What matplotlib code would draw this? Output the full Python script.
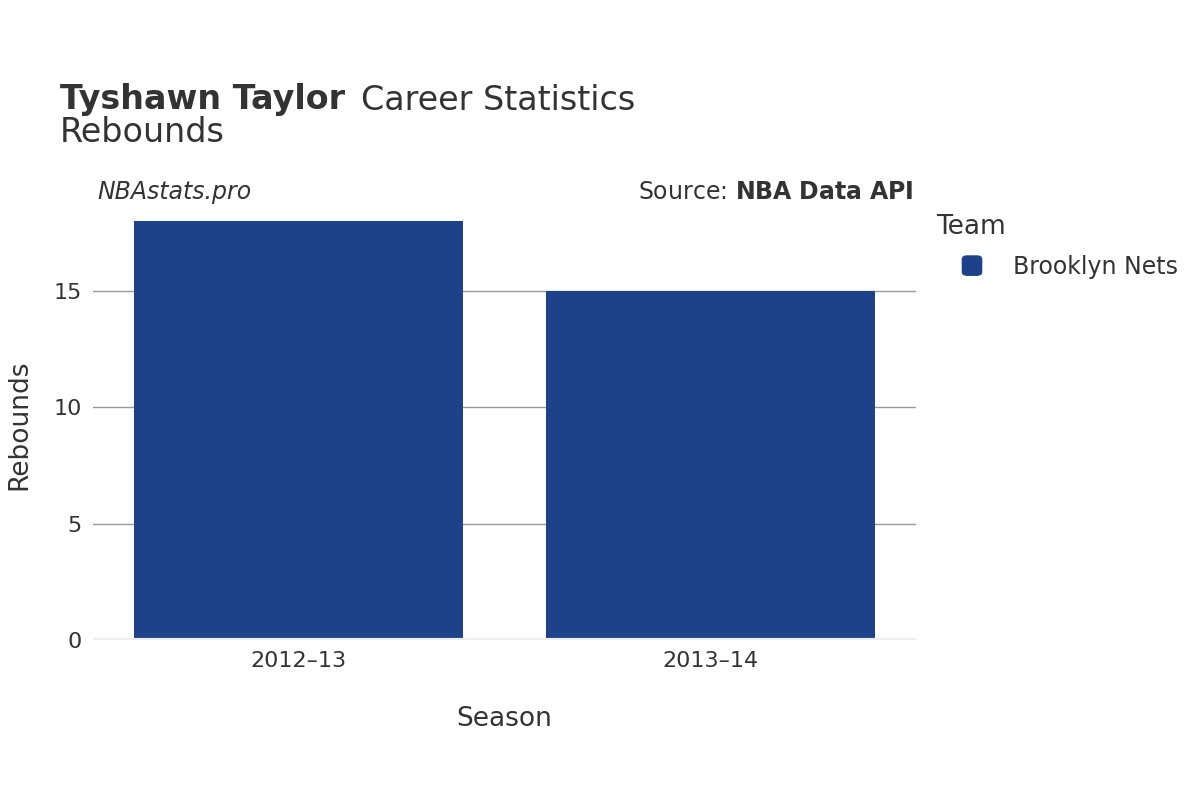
import matplotlib
matplotlib.use("Agg")
import matplotlib.pyplot as plt

seasons = ["2012–13", "2013–14"]
rebounds = [18, 15]
team = "Brooklyn Nets"
yticks = [0, 5, 10, 15]

fig = plt.figure(figsize=(12, 8), dpi=100)
ax = fig.add_axes([0.0775, 0.2, 0.6858, 0.5375])
ax.bar(range(len(seasons)), rebounds, width=0.8, color="#1d428a", zorder=3)
ax.set_xlim(-0.5, 1.5)
ax.set_ylim(0, 18.48)
ax.set_xticks(range(len(seasons)))
ax.set_xticklabels(seasons, fontsize=16, color="#333")
ax.set_yticks(yticks)
ax.set_yticklabels([str(v) for v in yticks], fontsize=16, color="#333")
ax.tick_params(length=0, pad=8)
ax.grid(axis="y", color="#999", lw=1, zorder=0)
for s in ax.spines.values():
    s.set_visible(False)
ax.axhline(0, color="#eee", lw=3, zorder=4)
ax.set_xlabel("Season", fontsize=19, color="#333", labelpad=25)
ax.set_ylabel("Rebounds", fontsize=19, color="#333", labelpad=15)

fig.text(0.05, 0.875, "Tyshawn Taylor", fontsize=24, fontweight="bold", color="#333", va="center")
fig.text(0.05 + 0.251, 0.875, "Career Statistics", fontsize=24, color="#333", va="center")
fig.text(0.05, 0.834, "Rebounds", fontsize=24, color="#333", va="center")
fig.text(0.081, 0.76, "NBAstats.pro", fontsize=17, style="italic", color="#333", va="center")
fig.text(0.761, 0.76, "Source: $\\bf{NBA\\ Data\\ API}$", fontsize=17, color="#333", va="center", ha="right")

fig.text(0.78, 0.716, "Team", fontsize=19, color="#333", va="center")
from matplotlib.patches import FancyBboxPatch
fig.patches.append(FancyBboxPatch((0.802, 0.656), 0.016, 0.024, boxstyle="round,pad=0,rounding_size=0.004",
                                  transform=fig.transFigure, color="#1d428a"))
fig.text(0.844, 0.666, team, fontsize=17, color="#333", va="center")

fig.savefig("out.png")
